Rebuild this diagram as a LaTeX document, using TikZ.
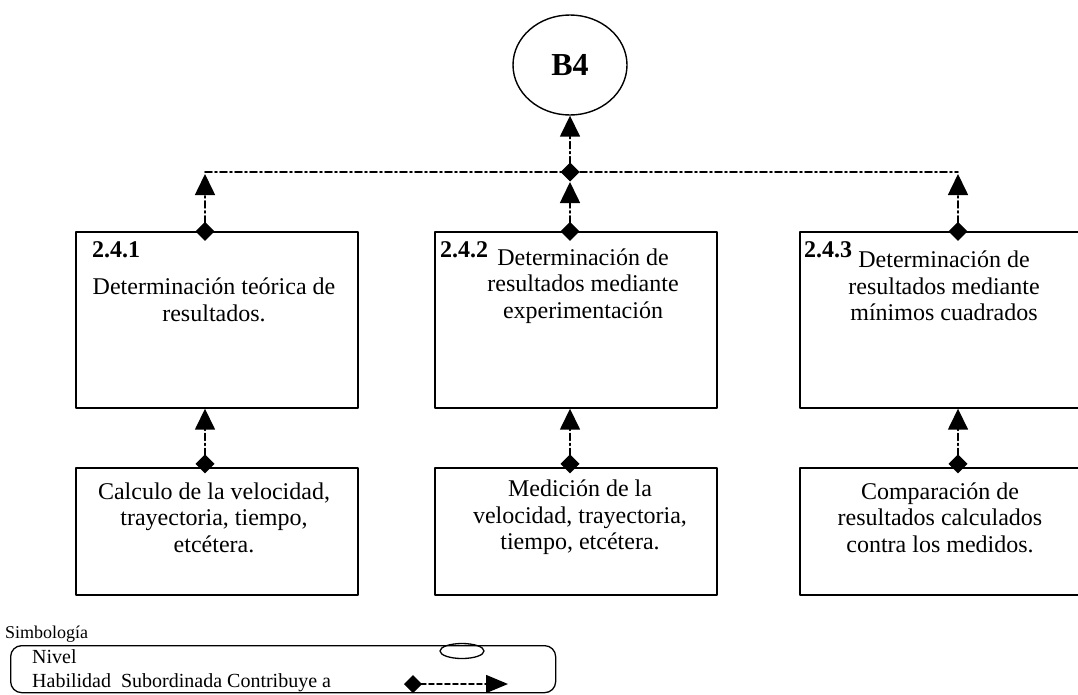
\documentclass[tikz,border=0pt]{standalone}
\usepackage{fontspec}
\setmainfont{Liberation Serif}
\usetikzlibrary{arrows.meta,calc,shapes.geometric}
\begin{document}
\begin{tikzpicture}[x=1pt, y=-1pt, line cap=round, line join=round,
	font=\fontsize{24}{26.5}\selectfont]
	\tikzset{box/.style={draw, line width=1.4pt, minimum width=282, inner sep=0},
		txt/.style={align=center, inner sep=0},
		num/.style={font=\fontsize{24}{26}\selectfont\bfseries, inner sep=0, anchor=west},
		link/.style={line width=1.6pt, dash pattern=on 7pt off 3pt on 2pt off 3pt},
		contrib/.style={link, {Diamond[length=19pt,width=19pt]}-{Triangle[length=21pt,width=20pt]}}}
	\useasboundingbox (0,0) rectangle (1078,694);
	\clip (0,0) rectangle (1078,694);
	\node[draw, ellipse, line width=1.4pt, minimum width=114, minimum height=100,
		font=\fontsize{32}{32}\selectfont\bfseries] (b4) at (570,65) {B4};
	\node[box, minimum height=176] (u1) at (217,320) {};
	\node[box, minimum height=176] (u2) at (576,320) {};
	\node[box, minimum height=176] (u3) at (941,320) {};
	\node[box, minimum height=127] (l1) at (217,531.5) {};
	\node[box, minimum height=127] (l2) at (576,531.5) {};
	\node[box, minimum height=127] (l3) at (941,531.5) {};
	\node[num] (n1) at (92,250) {2.4.1};
	\node[num] (n2) at (440,250) {2.4.2};
	\node[num] (n3) at (804,250) {2.4.3};
	\node[txt] (t1) at (214,300) {Determinación teórica de\\resultados.};
	\node[txt] (t2) at (583,286) {Determinación de\\resultados mediante\\experimentación};
	\node[txt] (t3) at (944,286) {Determinación de\\resultados mediante\\mínimos cuadrados};
	\node[txt] (s1) at (214,517.5) {Calculo de la velocidad,\\trayectoria, tiempo,\\etcétera.};
	\node[txt] (s2) at (580,517.5) {Medición de la\\velocidad, trayectoria,\\tiempo, etcétera.};
	\node[txt] (s3) at (940,517.5) {Comparación de\\resultados calculados\\contra los medidos.};
	\coordinate (a1) at (205,172);
	\coordinate (a2) at (570,172);
	\coordinate (a3) at (958,172);
	\draw[link] (a1) -- (a3);
	\draw[contrib] ($(a2)+(0,9.5)$) -- (b4.south);
	\foreach \i in {1,2,3}
		\draw[contrib] ($(l\i.north -| a\i)+(0,6)$) -- (u\i.south -| a\i);
	\draw[contrib] ($(u1.north -| a1)+(0,9.5)$) -- ($(a1)+(0,2)$);
	\draw[contrib] ($(u2.north -| a2)+(0,9.5)$) -- ($(a2)+(0,10)$);
	\draw[contrib] ($(u3.north -| a3)+(0,9.5)$) -- ($(a3)+(0,2)$);
	% simbologia
	\node[anchor=base west, inner sep=0, font=\fontsize{18}{18}\selectfont] (simb) at (5,638) {Simbología};
	\node[draw, line width=1.3pt, rounded corners=11pt, minimum width=545, minimum height=47,
		anchor=north west] (leg) at (10,645) {};
	\node[anchor=base west, inner sep=0, font=\fontsize{20}{20}\selectfont] (niv) at (32,663) {Nivel};
	\node[anchor=base west, inner sep=0, font=\fontsize{20}{20}\selectfont] (hab)
		at (32,687) {Habilidad\ \ Subordinada Contribuye a};
	\node[draw, ellipse, line width=1.3pt, minimum width=44, minimum height=15] (lev) at (462,651) {};
	\coordinate (la) at (404,684);
	\coordinate (lb) at (508,684);
	\draw[line width=1.5pt, dash pattern=on 5pt off 3pt,
		{Diamond[length=18pt,width=18pt]}-{Triangle[length=22pt,width=18pt]}] (la) -- (lb);
\end{tikzpicture}
\end{document}
